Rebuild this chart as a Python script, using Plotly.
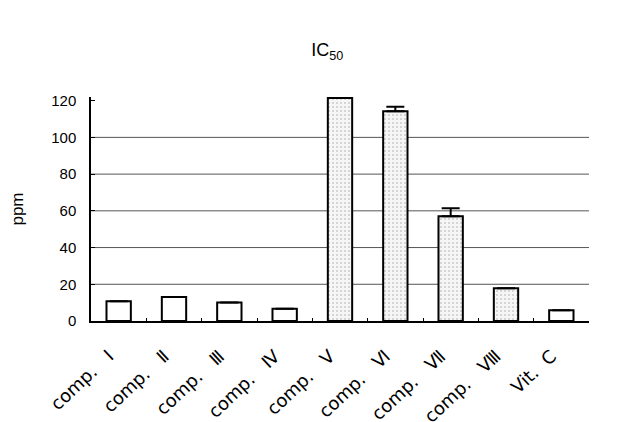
import plotly.graph_objects as go

NB = "\u00a0"
categories = ["comp." + NB * 3 + "Ⅰ", "comp." + NB * 3 + "Ⅱ", "comp." + NB * 3 + "Ⅲ",
              "comp." + NB * 3 + "Ⅳ", "comp." + NB * 3 + "Ⅴ", "comp." + NB * 3 + "Ⅵ",
              "comp." + NB * 3 + "Ⅶ", "comp." + NB * 3 + "Ⅷ", "Vit." + NB * 2 + "C"]
ic50_ppm = [10.7, 13.1, 10.1, 6.7, 121.5, 114.2, 57.0, 17.8, 5.8]
err_plus = [0, 0, 0, 0, 0, 2.5, 4.4, 0, 0]
patterns = ["", "", "", "", ".", ".", ".", ".", ""]
y_ticks = [0, 20, 40, 60, 80, 100, 120]
grid_values = [20, 40, 60, 80, 100]

FONT = "Liberation Sans, Arial, Noto Sans CJK KR, sans-serif"
XFONT = "DejaVu Sans, Liberation Sans, sans-serif"

fig = go.Figure()
fig.add_trace(go.Bar(
    x=categories,
    y=ic50_ppm,
    marker=dict(
        color="white",
        line=dict(color="black", width=2),
        pattern=dict(shape=patterns, fgcolor="#a0a0a0", bgcolor="#f6f6f6",
                     size=4, solidity=0.2),
    ),
    error_y=dict(type="data", symmetric=False, array=err_plus,
                 arrayminus=[0] * len(err_plus),
                 color="black", thickness=2, width=9),
    width=0.44,
))

for g in grid_values:
    fig.add_shape(type="line", xref="paper", x0=0, x1=1, yref="y", y0=g, y1=g,
                  line=dict(color="#555555", width=1), layer="below")

fig.update_layout(
    width=614, height=414,
    margin=dict(l=83, r=33, t=89, b=101),
    paper_bgcolor="white", plot_bgcolor="white",
    showlegend=False,
    font=dict(family=FONT, size=14, color="black"),
    title=dict(text="IC<sub>50</sub>", x=0.52, xanchor="center",
               y=1 - 42 / 414, yanchor="middle",
               font=dict(family=FONT, size=18, color="black")),
)
fig.update_xaxes(
    tickangle=-43, showline=True, linecolor="black", linewidth=1.5,
    ticks="inside", tickson="boundaries", ticklen=3, tickcolor="black",
    showgrid=False, tickfont=dict(family=XFONT, size=18), ticklabelstandoff=16,
    ticklabelshift=-10, automargin=False,
)
fig.update_yaxes(
    range=[0, 122], tickvals=y_ticks, showline=True, linecolor="black",
    linewidth=1.5, ticks="inside", ticklen=4, tickcolor="black",
    showgrid=False, zeroline=False, tickfont=dict(size=15),
    ticklabelstandoff=10, automargin=False,
    title=dict(text="ppm", font=dict(size=17), standoff=26),
)

fig.write_html("out.html")
